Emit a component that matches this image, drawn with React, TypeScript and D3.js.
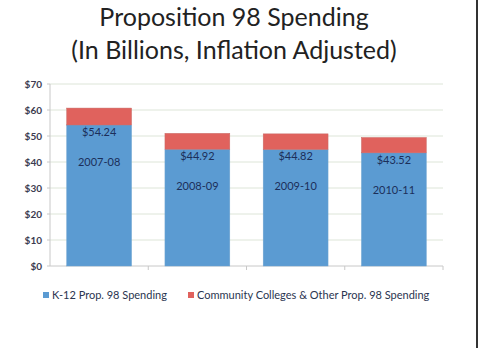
import React from "react";
import * as d3 from "d3";

const categories = ["2007-08", "2008-09", "2009-10", "2010-11"];
const k12 = [54.24, 44.92, 44.82, 43.52];
const other = [6.5, 6.1, 6.0, 5.9];
const valueLabels = ["$54.24", "$44.92", "$44.82", "$43.52"];
const yTicks = [0, 10, 20, 30, 40, 50, 60, 70];
const seriesNames = ["K-12 Prop. 98 Spending", "Community Colleges & Other Prop. 98 Spending"];
const colors = ["#5b9bd2", "#e0625d"];

export default function App() {
  const W = 480, H = 348;
  const left = 50, right = 443, top = 84, bottom = 266;
  const x = d3.scaleBand<string>().domain(categories).range([left, right]).paddingInner(0.34).paddingOuter(0.17);
  const y = d3.scaleLinear().domain([0, 70]).range([bottom, top]);
  const font = "Lato, 'Open Sans', sans-serif";
  const catBand = (right - left) / categories.length;
  return (
    <svg width={W} height={H} style={{ position: "absolute", left: 0, top: 0, background: "#fff" }}>
      <rect x={0} y={0} width={W} height={H} fill="#fff" />
      <text x={234} y={26} textAnchor="middle" fontFamily={font} fontSize={25} fill="#222">Proposition 98 Spending</text>
      <text x={234} y={59} textAnchor="middle" fontFamily={font} fontSize={25} fill="#222">(In Billions, Inflation Adjusted)</text>
      {yTicks.map((t) => (
        <g key={t}>
          {t > 0 && <line x1={left} x2={right} y1={y(t)} y2={y(t)} stroke="#dde5d8" strokeWidth={1} />}
          <line x1={left - 3} x2={left} y1={y(t)} y2={y(t)} stroke="#c8c8c8" />
          <text x={42} y={y(t) + 3.5} textAnchor="end" fontFamily={font} fontSize={10} fontWeight={700} fill="#3c3c50">{"$" + t}</text>
        </g>
      ))}
      <line x1={left} x2={left} y1={top} y2={bottom} stroke="#c8c8c8" />
      <line x1={left} x2={right} y1={bottom} y2={bottom} stroke="#c8c8c8" />
      {categories.map((c, i) => (
        <line key={"t" + i} x1={left + catBand * (i + 1)} x2={left + catBand * (i + 1)} y1={bottom} y2={bottom + 4} stroke="#c8c8c8" />
      ))}
      {categories.map((c, i) => {
        const bx = x(c)!;
        const bw = x.bandwidth();
        const yb = y(k12[i]);
        const yt = y(k12[i] + other[i]);
        return (
          <g key={c}>
            <rect x={bx} y={yb} width={bw} height={bottom - yb} fill={colors[0]} stroke="#6fa3cf" strokeWidth={0.5} />
            <rect x={bx} y={yt} width={bw} height={yb - yt} fill={colors[1]} stroke="#c86a66" strokeWidth={0.5} />
            <text x={bx + bw / 2} y={yb + 11} textAnchor="middle" fontFamily={font} fontSize={11} fill="#1c2f5a">{valueLabels[i]}</text>
            <text x={bx + bw / 2} y={yb + 41} textAnchor="middle" fontFamily={font} fontSize={11} fill="#1c2f5a">{c}</text>
          </g>
        );
      })}
      <rect x={43} y={292} width={6} height={6} fill={colors[0]} />
      <text x={52} y={299} fontFamily={font} fontSize={11} fill="#2a3550">{seriesNames[0]}</text>
      <rect x={188} y={292} width={6} height={6} fill={colors[1]} />
      <text x={197} y={299} fontFamily={font} fontSize={11} fill="#2a3550">{seriesNames[1]}</text>
      <line x1={477} x2={477} y1={0} y2={H} stroke="#333" strokeWidth={2} />
    </svg>
  );
}
